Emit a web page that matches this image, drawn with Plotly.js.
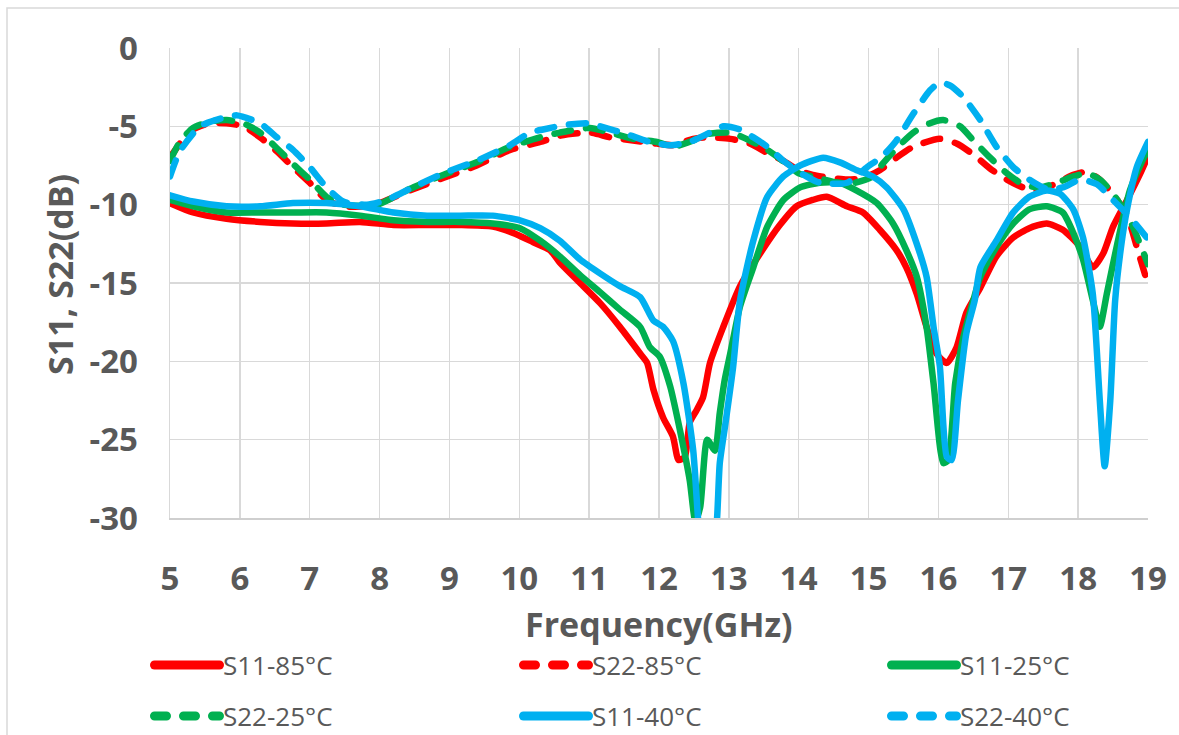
<!DOCTYPE html>
<html>
<head>
<meta charset="utf-8">
<script src="https://cdn.plot.ly/plotly-3.0.1.min.js"></script>
<style>
  html, body { margin: 0; padding: 0; background: #fff; }
  #chart { width: 1179px; height: 735px; }
  .scatterlayer .js-line { stroke-linecap: round; stroke-linejoin: round; }
  .shapelayer path { stroke-linecap: round; }
</style>
</head>
<body>
<div id="chart"></div>
<script>
// ---------- data ----------
const seriesNames = ['S11-85°C', 'S22-85°C', 'S11-25°C', 'S22-25°C', 'S11-40°C', 'S22-40°C'];
const seriesColors = ['#FF0000', '#FF0000', '#00B050', '#00B050', '#00B0F0', '#00B0F0'];
const seriesDashed = [false, true, false, true, false, true];

const xTickVals = [5, 6, 7, 8, 9, 10, 11, 12, 13, 14, 15, 16, 17, 18, 19];
const xTickText = ['5', '6', '7', '8', '9', '10', '11', '12', '13', '14', '15', '16', '17', '18', '19'];
const yTickVals = [-30, -25, -20, -15, -10, -5, 0];
const yTickText = ['-30', '-25', '-20', '-15', '-10', '-5', '0'];

const xTitle = 'Frequency(GHz)';
const yTitle = 'S11, S22(dB)';

// S11 at 85°C
const s11_85_f = [5, 5.33, 5.81, 6.29, 6.76, 7.24, 7.72, 8.2, 8.68, 9.15, 9.62, 9.91, 10.2, 10.44, 10.58, 10.87, 11.16, 11.44, 11.73, 11.83, 11.92, 12.06, 12.2, 12.28, 12.37, 12.44, 12.54, 12.63, 12.73, 12.92, 13.16, 13.45, 13.73, 13.97, 14.2, 14.4, 14.69, 14.92, 15.16, 15.4, 15.54, 15.69, 15.83, 15.97, 16.12, 16.26, 16.4, 16.6, 16.83, 17.07, 17.3, 17.55, 17.78, 18.03, 18.21, 18.36, 18.5, 18.7, 18.89, 19];
const s11_85_db = [-9.9, -10.5, -10.9, -11.1, -11.2, -11.2, -11.1, -11.3, -11.3, -11.3, -11.4, -11.8, -12.4, -12.9, -13.7, -15.0, -16.3, -17.8, -19.5, -20.1, -21.8, -23.6, -24.8, -26.3, -26.1, -23.9, -23.1, -22.3, -20.1, -17.8, -15.2, -13.1, -11.3, -10.1, -9.7, -9.5, -10.1, -10.5, -11.6, -12.9, -14.0, -15.7, -17.8, -19.5, -20.1, -19.1, -16.9, -15.3, -13.3, -12.1, -11.5, -11.2, -11.6, -12.7, -14.0, -13.1, -11.4, -9.7, -8.0, -6.9];

// S22 at 85°C
const s22_85_f = [5, 5.14, 5.33, 5.57, 5.81, 6.05, 6.29, 6.53, 6.76, 7.0, 7.24, 7.48, 7.82, 8.0, 8.43, 8.91, 9.39, 9.87, 10.3, 10.58, 11.01, 11.3, 11.63, 11.97, 12.2, 12.49, 12.68, 13.02, 13.3, 13.55, 13.78, 14.0, 14.2, 14.69, 14.92, 15.16, 15.4, 15.64, 16.02, 16.26, 16.5, 16.74, 16.98, 17.21, 17.45, 17.7, 17.93, 18.13, 18.31, 18.56, 18.74, 18.84, 19];
const s22_85_db = [-7.0, -6.1, -5.2, -4.8, -4.8, -5.0, -5.7, -6.6, -7.6, -8.6, -9.7, -10.1, -10.1, -9.9, -9.1, -8.3, -7.5, -6.5, -6.0, -5.6, -5.4, -5.7, -5.9, -6.1, -6.2, -5.8, -5.7, -5.8, -6.1, -6.7, -7.2, -7.8, -8.1, -8.4, -8.3, -7.8, -7.0, -6.3, -5.8, -6.1, -6.8, -7.7, -8.4, -8.9, -9.1, -8.6, -8.1, -7.9, -8.4, -9.7, -11.2, -12.7, -15.1];

// S11 at 25°C
const s11_25_f = [5, 5.33, 5.81, 6.29, 6.76, 7.24, 7.72, 8.2, 8.68, 9.15, 9.62, 10.01, 10.3, 10.58, 10.87, 11.16, 11.44, 11.73, 11.87, 12.01, 12.16, 12.3, 12.44, 12.52, 12.59, 12.69, 12.8, 12.87, 12.94, 13.02, 13.16, 13.35, 13.55, 13.78, 14.02, 14.3, 14.59, 14.83, 15.12, 15.35, 15.54, 15.69, 15.83, 15.93, 16.07, 16.14, 16.24, 16.35, 16.5, 16.6, 16.83, 17.07, 17.3, 17.55, 17.78, 17.93, 18.07, 18.21, 18.31, 18.41, 18.56, 18.74, 18.93, 19];
const s11_25_db = [-9.7, -10.1, -10.5, -10.5, -10.5, -10.5, -10.7, -11.0, -11.1, -11.1, -11.2, -11.5, -12.3, -13.3, -14.5, -15.6, -16.7, -17.8, -19.1, -19.7, -21.6, -24.4, -27.6, -30.2, -29.3, -25.0, -25.7, -23.3, -21.2, -19.5, -16.5, -14.0, -11.4, -9.7, -8.9, -8.6, -8.6, -9.1, -9.9, -11.2, -12.9, -14.6, -17.8, -21.4, -26.5, -26.3, -21.4, -18.6, -16.1, -14.6, -12.7, -11.2, -10.3, -10.1, -10.5, -11.8, -13.5, -16.1, -17.8, -15.7, -12.5, -9.1, -7.1, -6.5];

// S22 at 25°C
const s22_25_f = [5, 5.14, 5.33, 5.57, 5.81, 6.05, 6.29, 6.53, 6.76, 7.0, 7.24, 7.48, 7.96, 8.43, 8.91, 9.39, 9.87, 10.3, 10.58, 11.01, 11.3, 11.63, 11.97, 12.2, 12.49, 12.68, 13.02, 13.3, 13.55, 13.83, 14.0, 14.2, 14.69, 15.06, 15.2, 15.4, 15.64, 15.88, 16.07, 16.31, 16.5, 16.74, 16.98, 17.21, 17.45, 17.7, 17.93, 18.13, 18.31, 18.5, 18.74, 19];
const s22_25_db = [-7.2, -6.0, -5.1, -4.7, -4.6, -4.8, -5.4, -6.4, -7.4, -8.4, -9.5, -10.0, -10.0, -9.0, -8.1, -7.3, -6.3, -5.7, -5.4, -5.1, -5.4, -5.8, -6.0, -6.3, -5.9, -5.5, -5.4, -5.9, -6.5, -7.4, -8.0, -8.2, -8.7, -8.2, -7.4, -6.4, -5.4, -4.8, -4.6, -5.0, -5.9, -7.0, -8.0, -8.7, -8.9, -8.6, -8.2, -8.0, -8.4, -9.3, -11.0, -13.8];

// S11 at 40°C
const s11_40_f = [5, 5.33, 5.81, 6.29, 6.76, 7.24, 7.72, 8.2, 8.68, 9.15, 9.62, 10.01, 10.3, 10.58, 10.87, 11.16, 11.44, 11.73, 11.92, 12.06, 12.2, 12.35, 12.49, 12.56, 12.62, 12.76, 12.83, 12.87, 12.95, 13.06, 13.16, 13.35, 13.55, 13.78, 14.02, 14.35, 14.59, 14.83, 15.06, 15.26, 15.5, 15.69, 15.83, 15.93, 16.02, 16.12, 16.19, 16.28, 16.4, 16.52, 16.6, 16.83, 17.07, 17.3, 17.55, 17.74, 17.93, 18.07, 18.21, 18.31, 18.38, 18.46, 18.53, 18.62, 18.7, 18.84, 19];
const s11_40_db = [-9.4, -9.8, -10.1, -10.1, -9.9, -9.9, -10.1, -10.5, -10.7, -10.7, -10.7, -11.0, -11.5, -12.3, -13.5, -14.4, -15.2, -15.9, -17.4, -17.8, -18.7, -21.4, -25.7, -30.1, -33.0, -33.0, -30.1, -26.5, -24.0, -20.4, -16.1, -12.3, -9.5, -8.2, -7.5, -7.0, -7.3, -7.8, -8.2, -8.9, -10.3, -12.5, -14.6, -17.8, -20.3, -26.1, -26.3, -22.5, -18.2, -16.1, -14.0, -12.3, -10.5, -9.5, -9.1, -9.3, -10.3, -12.1, -15.7, -22.5, -26.7, -22.5, -16.1, -12.5, -10.3, -7.6, -6.0];

// S22 at 40°C
const s22_40_f = [5, 5.14, 5.43, 5.81, 5.96, 6.29, 6.53, 6.76, 7.0, 7.24, 7.48, 7.82, 8.1, 8.43, 8.91, 9.39, 9.87, 10.15, 10.34, 10.68, 11.01, 11.16, 11.54, 11.87, 12.16, 12.44, 12.73, 12.92, 13.16, 13.35, 13.55, 13.78, 14.0, 14.3, 14.69, 14.98, 15.2, 15.4, 15.64, 15.88, 16.02, 16.17, 16.35, 16.6, 16.83, 17.07, 17.3, 17.55, 17.78, 18.03, 18.27, 18.5, 18.74, 19];
const s22_40_db = [-8.2, -6.6, -5.0, -4.4, -4.3, -4.8, -5.7, -6.5, -7.6, -8.9, -9.8, -10.0, -9.7, -9.0, -8.0, -7.2, -6.2, -5.4, -5.2, -4.9, -4.8, -5.0, -5.5, -6.0, -6.2, -6.0, -5.4, -5.0, -5.2, -5.7, -6.3, -7.2, -7.9, -8.6, -8.6, -7.6, -6.9, -5.9, -4.2, -2.7, -2.2, -2.4, -3.1, -4.6, -6.3, -7.6, -8.4, -9.0, -8.9, -8.4, -8.7, -9.7, -10.8, -12.2];

const seriesX = [s11_85_f, s22_85_f, s11_25_f, s22_25_f, s11_40_f, s22_40_f];
const seriesY = [s11_85_db, s22_85_db, s11_25_db, s22_25_db, s11_40_db, s22_40_db];

// ---------- layout helpers ----------
const W = 1179, H = 735;
const M = { l: 170, r: 31, t: 48, b: 217 };
const PW = W - M.l - M.r, PH = H - M.t - M.b;
const px2x = (px) => (px - M.l) / PW;
const py2y = (py) => (H - M.b - py) / PH;

const textGray = '#595959';
const gridGray = '#D9D9D9';
const fontFam = '"Open Sans", "Noto Sans", sans-serif';

const traces = seriesNames.map((name, i) => ({
  type: 'scatter',
  mode: 'lines',
  name: name,
  x: seriesX[i],
  y: seriesY[i],
  line: {
    color: seriesColors[i],
    width: 6.5,
    shape: 'spline',
    smoothing: 0.6,
    dash: seriesDashed[i] ? '17px,15px' : 'solid'
  },
  showlegend: false,
  hoverinfo: 'skip'
}));

// custom legend
const legendCols = [150, 519, 887];
const legendRows = [665, 716];
const symLen = 74;
const shapes = [];
const annotations = [];

// chart frame
shapes.push({
  type: 'rect', xref: 'paper', yref: 'paper',
  x0: px2x(7), x1: px2x(1190), y0: py2y(745), y1: py2y(8),
  line: { color: gridGray, width: 1.5 }, fillcolor: 'rgba(0,0,0,0)', layer: 'below'
});

seriesNames.forEach((name, i) => {
  const col = i % 3, row = Math.floor(i / 3);
  const x0 = legendCols[col], y = legendRows[row];
  shapes.push({
    type: 'line', xref: 'paper', yref: 'paper',
    x0: px2x(x0 + 4.5), x1: px2x(x0 + symLen - 4.5), y0: py2y(y), y1: py2y(y),
    line: { color: seriesColors[i], width: 9, dash: seriesDashed[i] ? '12px,17px' : 'solid' }
  });
  annotations.push({
    xref: 'paper', yref: 'paper', x: px2x(x0 + symLen - 2), y: py2y(y),
    xanchor: 'left', yanchor: 'middle', showarrow: false, borderpad: 0,
    text: name, font: { family: fontFam, size: 26, color: textGray }
  });
});

annotations.push({
  xref: 'paper', yref: 'paper', x: 0.5, y: py2y(624),
  xanchor: 'center', yanchor: 'middle', showarrow: false,
  text: xTitle, font: { family: fontFam, size: 34, color: textGray, weight: 'bold' }
});
annotations.push({
  xref: 'paper', yref: 'paper', x: px2x(60), y: py2y(275),
  xanchor: 'center', yanchor: 'middle', showarrow: false, textangle: -90,
  text: yTitle, font: { family: fontFam, size: 34, color: textGray, weight: 'bold' }
});

const layout = {
  width: W, height: H,
  margin: M,
  paper_bgcolor: '#ffffff',
  plot_bgcolor: '#ffffff',
  showlegend: false,
  xaxis: {
    range: [5, 19],
    tickmode: 'array', tickvals: xTickVals, ticktext: xTickText,
    showgrid: true, gridcolor: gridGray, gridwidth: 1.5,
    zeroline: false, showline: true, linecolor: '#CFCFCF', linewidth: 2,
    ticks: '', ticklabelstandoff: 30,
    tickfont: { family: fontFam, size: 33, color: textGray, weight: 'bold' },
    fixedrange: true
  },
  yaxis: {
    range: [-30, 0],
    tickmode: 'array', tickvals: yTickVals, ticktext: yTickText,
    showgrid: true, gridcolor: gridGray, gridwidth: 1.5,
    zeroline: false, showline: true, linecolor: gridGray, linewidth: 1.5,
    ticks: '', ticklabelstandoff: 24,
    tickfont: { family: fontFam, size: 33, color: textGray, weight: 'bold' },
    fixedrange: true
  },
  shapes: shapes,
  annotations: annotations
};

Plotly.newPlot('chart', traces, layout, { displayModeBar: false, staticPlot: true });
</script>
</body>
</html>
